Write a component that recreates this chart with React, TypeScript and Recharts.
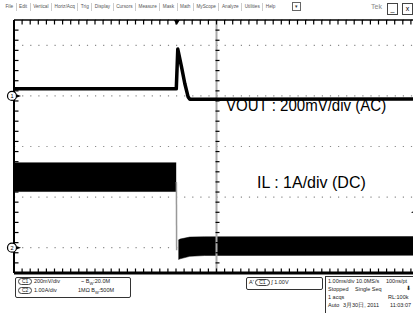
import React from "react";
import { Area, CartesianGrid, ComposedChart, Line, ReferenceDot, ReferenceLine, XAxis, YAxis } from "recharts";

// screen coordinates: time in horizontal divisions (0 = centre), level in vertical divisions
const gridTimes = [-4, -3, -2, -1, 1, 2, 3, 4];
const gridLevels = [2, 1, 0, -1, -2];

// VOUT (mV, AC coupled, 200mV/div)
const voutTimes = [-5, -0.993, -0.956, -0.864, -0.783, -0.701, -0.659, 5];
const voutValues = [28, 28, 185, 115, 49, -4, -13, -12];

// IL ripple envelope (A, 1A/div)
const ilBeforeTimes = [-5, -0.995];
const ilBeforeLow = [1.11, 1.11];
const ilBeforeHigh = [1.68, 1.68];
const ilAfterTimes = [-0.94, -0.9, -0.66, -0.3, 5];
const ilAfterLow = [-0.233, -0.22, -0.17, -0.155, -0.15];
const ilAfterHigh = [0.152, 0.17, 0.21, 0.215, 0.22];
const ilEdgeTimes = [-0.99, -0.985];
const ilEdgeValues = [1.3, -0.05];

const triggerTime = -0.98;
const triggerLevel = 0.7;

const menuItems = ["File", "Edit", "Vertical", "Horiz/Acq", "Trig", "Display", "Cursors", "Measure", "Mask", "Math", "MyScope", "Analyze", "Utilities", "Help"];

const voutData = voutTimes.map((t, i) => ({ t, v: voutValues[i] }));
const ilBefore = ilBeforeTimes.map((t, i) => ({ t, band: [ilBeforeLow[i], ilBeforeHigh[i]] }));
const ilAfter = ilAfterTimes.map((t, i) => ({ t, band: [ilAfterLow[i], ilAfterHigh[i]] }));
const ilEdge = ilEdgeTimes.map((t, i) => ({ t, a: ilEdgeValues[i] }));

// minor graticule marks every 0.2 div (as fractions of the span)
const timeMarks = Array.from({ length: 49 }, (_, i) => (i + 1) / 50);
const levelMarks = Array.from({ length: 24 }, (_, i) => (i + 1) / 25);

// frame edges with inward minor marks
const HEdge = (dir: 1 | -1, width: number) => (props: any) => {
  const { x1, x2, y1 } = props;
  const a = Math.min(x1, x2);
  const w = Math.abs(x2 - x1);
  return (
    <g>
      <line x1={a} x2={a + w} y1={y1} y2={y1} stroke="#000" strokeWidth={width} />
      {timeMarks.map((f) => (
        <line key={f} x1={a + f * w} x2={a + f * w} y1={y1} y2={y1 + dir * 4.5} stroke="#000" strokeWidth={1.2} />
      ))}
    </g>
  );
};

const VEdge = (tickFrom: number, tickTo: number, color: string, width: number) => (props: any) => {
  const { x1, y1, y2 } = props;
  const top = Math.min(y1, y2);
  const h = Math.abs(y2 - y1);
  return (
    <g>
      <line x1={x1} x2={x1} y1={top} y2={top + h} stroke={color} strokeWidth={width} />
      {levelMarks.map((f) => (
        <line key={f} x1={x1 + tickFrom} x2={x1 + tickTo} y1={top + f * h} y2={top + f * h} stroke="#000" strokeWidth={1.2} />
      ))}
    </g>
  );
};

const TopEdge = HEdge(1, 1.5);
const BottomEdge = HEdge(-1, 3);
const LeftEdge = VEdge(0, 4.5, "#000", 2);
const CenterEdge = VEdge(-1, 3, "#aaa", 2);

const channelMarker = (label: string) => (props: any) => {
  const { cx, cy } = props;
  return (
    <g>
      <circle cx={cx - 2} cy={cy} r={4.5} fill="#fff" stroke="#000" strokeWidth={1.2} />
      <text x={cx - 2} y={cy + 2} fontSize={5.5} textAnchor="middle" fill="#000">
        {label}
      </text>
      <path d={`M${cx + 3},${cy - 1.5} L${cx + 7},${cy} L${cx + 3},${cy + 1.5} Z`} fill="#000" />
    </g>
  );
};

const TriggerMarker = ({ cx, cy }: any) => <path d={`M${cx - 3},${cy} L${cx + 3},${cy} L${cx},${cy + 5} Z`} fill="#000" />;
const LevelMarker = ({ cx, cy }: any) => <path d={`M${cx},${cy} L${cx + 4},${cy - 1.5} L${cx + 4},${cy + 1.5} Z`} fill="#000" />;

const small: React.CSSProperties = { position: "absolute", fontSize: 5.5, lineHeight: "7px", color: "#222", whiteSpace: "nowrap" };

const Badge = ({ children }: { children: React.ReactNode }) => (
  <span style={{ display: "inline-block", border: "1px solid #444", borderRadius: 4, padding: "0 3px", fontSize: 5, lineHeight: "5px" }}>{children}</span>
);

function ScopeChart() {
  return (
    <div style={{ position: "absolute", left: 0, top: 0 }}>
      <ComposedChart width={430} height={278} margin={{ top: 20, right: 11, bottom: 5, left: 14 }}>
        <XAxis xAxisId="gx" type="number" domain={[-5, 5]} allowDataOverflow ticks={gridTimes} interval={0} hide />
        <YAxis yAxisId="gy" type="number" domain={[-2.5, 2.5]} allowDataOverflow ticks={gridLevels} interval={0} hide width={0} />
        <CartesianGrid xAxisId="gx" yAxisId="gy" vertical={false} stroke="#8a8a8a" strokeWidth={1.2} strokeDasharray="1.2 6.9" />
        <CartesianGrid xAxisId="gx" yAxisId="gy" horizontal={false} stroke="#8a8a8a" strokeWidth={1.2} strokeDasharray="1.2 8.92" />
        <XAxis xAxisId="t" type="number" dataKey="t" domain={[-5, 5]} allowDataOverflow hide />
        <YAxis yAxisId="div" type="number" domain={[-2.5, 2.5]} allowDataOverflow hide width={0} />
        <YAxis yAxisId="vout" type="number" domain={[-700, 300]} allowDataOverflow hide width={0} />
        <YAxis yAxisId="il" type="number" domain={[-0.5, 4.5]} allowDataOverflow hide width={0} />

        <ReferenceLine xAxisId="t" yAxisId="div" x={0} shape={CenterEdge} ifOverflow="visible" />

        <Area xAxisId="t" yAxisId="il" data={ilBefore} dataKey="band" type="linear" stroke="#000" strokeWidth={0.5} fill="#000" fillOpacity={1} isAnimationActive={false} />
        <Area xAxisId="t" yAxisId="il" data={ilAfter} dataKey="band" type="linear" stroke="#000" strokeWidth={0.5} fill="#000" fillOpacity={1} isAnimationActive={false} />
        <Line xAxisId="t" yAxisId="il" data={ilEdge} dataKey="a" type="linear" stroke="#999" strokeWidth={1.5} dot={false} isAnimationActive={false} />
        <Line xAxisId="t" yAxisId="vout" data={voutData} dataKey="v" type="linear" stroke="#000" strokeWidth={3.5} strokeLinejoin="round" dot={false} isAnimationActive={false} />

        <ReferenceLine xAxisId="t" yAxisId="div" y={2.5} shape={TopEdge} ifOverflow="visible" />
        <ReferenceLine xAxisId="t" yAxisId="div" y={-2.5} shape={BottomEdge} ifOverflow="visible" />
        <ReferenceLine xAxisId="t" yAxisId="div" x={-5} shape={LeftEdge} ifOverflow="visible" />

        <ReferenceDot xAxisId="t" yAxisId="vout" x={-5} y={0} r={5} ifOverflow="visible" shape={channelMarker("1")} />
        <ReferenceDot xAxisId="t" yAxisId="il" x={-5} y={0} r={5} ifOverflow="visible" shape={channelMarker("2")} />
        <ReferenceDot xAxisId="t" yAxisId="div" x={triggerTime} y={2.5} r={3} ifOverflow="visible" shape={TriggerMarker} />
        <ReferenceDot xAxisId="t" yAxisId="il" x={4.8} y={triggerLevel} r={3} ifOverflow="visible" shape={LevelMarker} />
      </ComposedChart>
    </div>
  );
}

export default function App() {
  return (
    <div style={{ position: "absolute", left: 0, top: 0, width: 413, height: 313, overflow: "hidden", background: "#fff", fontFamily: "'Liberation Sans', Arial, sans-serif" }}>
      {/* menu bar */}
      <div style={{ position: "absolute", left: 3, top: 2, display: "flex", alignItems: "center", fontSize: 4.7, lineHeight: "8px", color: "#555" }}>
        {menuItems.map((m, i) => (
          <span key={m} style={{ padding: "0 2.5px", borderLeft: i ? "1px solid #ccc" : "none" }}>
            {m}
          </span>
        ))}
        <span style={{ marginLeft: 14, border: "1px solid #666", width: 7, height: 7, fontSize: 5, lineHeight: "7px", textAlign: "center", color: "#333" }}>▾</span>
      </div>
      <div style={{ position: "absolute", left: 371, top: 3, fontSize: 7, color: "#888" }}>Tek</div>
      <div style={{ position: "absolute", left: 387, top: 3, width: 9, height: 10, border: "1px solid #444", fontSize: 7, lineHeight: "9px", textAlign: "center" }}>_</div>
      <div style={{ position: "absolute", left: 402, top: 3, width: 9, height: 10, border: "1px solid #444", fontSize: 7, lineHeight: "10px", textAlign: "center" }}>x</div>

      <ScopeChart />

      {/* annotations */}
      <div style={{ position: "absolute", left: 226, top: 98, fontSize: 16, lineHeight: "16px", color: "#000", whiteSpace: "nowrap", transform: "scaleX(0.94)", transformOrigin: "left center" }}>
        VOUT : 200mV/div (AC)
      </div>
      <div style={{ position: "absolute", left: 257, top: 175, fontSize: 16, lineHeight: "16px", color: "#000", whiteSpace: "nowrap" }}>IL : 1A/div (DC)</div>

      {/* channel readouts */}
      <div style={{ position: "absolute", left: 15, top: 277, width: 114, height: 19, border: "1px solid #333", borderRadius: 2 }} />
      <div style={{ ...small, left: 18, top: 278 }}>
        <Badge>C1</Badge> 200mV/div
      </div>
      <div style={{ ...small, left: 81, top: 278 }}>~ B<sub style={{ fontSize: 4 }}>W</sub>:20.0M</div>
      <div style={{ ...small, left: 18, top: 287 }}>
        <Badge>C2</Badge> 1.00A/div
      </div>
      <div style={{ ...small, left: 78, top: 287 }}>1MΩ B<sub style={{ fontSize: 4 }}>W</sub>:500M</div>

      {/* trigger readout */}
      <div style={{ position: "absolute", left: 246, top: 277, width: 75, height: 11, border: "1px solid #333", borderRadius: 2 }} />
      <div style={{ ...small, left: 249, top: 279 }}>
        A' <Badge>C1</Badge> ∫ 1.00V
      </div>

      {/* acquisition readout */}
      <div style={{ position: "absolute", left: 325, top: 276, width: 100, height: 40, borderLeft: "1px solid #333", borderTop: "1px solid #333" }} />
      <div style={{ ...small, left: 328, top: 278 }}>1.00ms/div</div>
      <div style={{ ...small, left: 356, top: 278 }}>10.0MS/s</div>
      <div style={{ ...small, left: 386, top: 278 }}>100ns/pt</div>
      <div style={{ ...small, left: 328, top: 286 }}>Stopped</div>
      <div style={{ ...small, left: 355, top: 286 }}>Single Seq</div>
      <div style={{ ...small, left: 406, top: 285, fontSize: 6 }}>⬇</div>
      <div style={{ ...small, left: 328, top: 294 }}>1 acqs</div>
      <div style={{ ...small, left: 388, top: 294 }}>RL:100k</div>
      <div style={{ ...small, left: 328, top: 302 }}>Auto</div>
      <div style={{ ...small, left: 343, top: 302 }}>3月30日, 2011</div>
      <div style={{ ...small, left: 390, top: 302 }}>11:03:07</div>
    </div>
  );
}
